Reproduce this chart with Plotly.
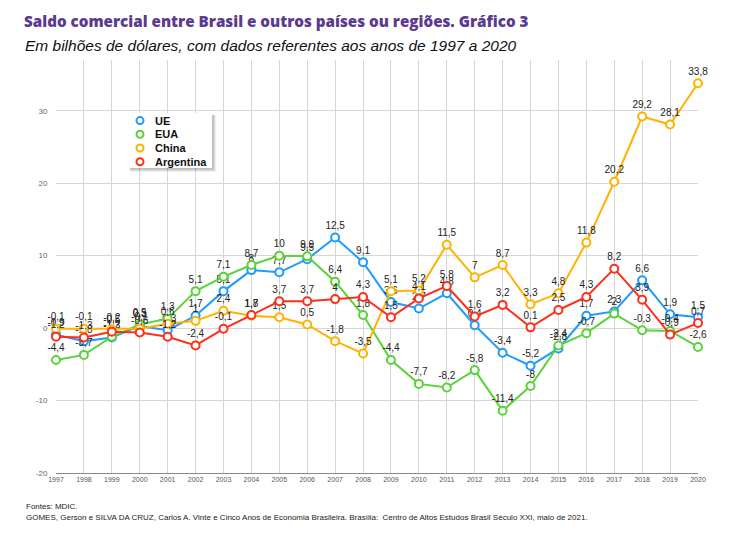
import plotly.graph_objects as go

years = list(range(1997, 2021))
ue = [-0.9, -1.8, -1.3, 0.3, -0.3, 1.7, 5.1, 8, 7.7, 9.5, 12.5, 9.1, 3.6, 2.7, 4.8, 0.4, -3.4, -5.2, -2.8, 1.7, 2.3, 6.6, 1.9, 1.5]
eua = [-4.4, -3.7, -1.2, 0.5, 1.3, 5.1, 7.1, 8.7, 10, 9.9, 6.4, 1.8, -4.4, -7.7, -8.2, -5.8, -11.4, -8, -2.4, -0.7, 2, -0.3, -0.4, -2.6]
china = [-0.1, -0.1, -0.2, -0.1, 0.6, 1, 2.4, 1.7, 1.5, 0.5, -1.8, -3.5, 5.1, 5.2, 11.5, 7, 8.7, 3.3, 4.8, 11.8, 20.2, 29.2, 28.1, 33.8]
argentina = [-1.2, -1.3, -0.5, -0.6, -1.2, -2.4, -0.1, 1.8, 3.7, 3.7, 4, 4.3, 1.5, 4.1, 5.8, 1.6, 3.2, 0.1, 2.5, 4.3, 8.2, 3.9, -0.9, 0.7]

series_names = ["UE", "EUA", "China", "Argentina"]
series_values = [ue, eua, china, argentina]
series_colors = ["#1e9bff", "#5ad238", "#ffb200", "#ff2e1a"]
y_ticks = [-20, -10, 0, 10, 20, 30]

# page offset (browser body margin) compensation
OFF = 8
PL, PR, PT, PB = 56, 698, 60, 472.6  # plot area in screenshot pixels
PW, PH = PR - PL, PB - PT


def px(x):
    return (x - PL) / PW


def py(y):
    return (PB - y) / PH


def fmt(v):
    s = f"{v:.1f}"
    if s.endswith(".0"):
        s = s[:-2]
    return s.replace(".", ",")


fig = go.Figure()
for name, vals, col in zip(series_names, series_values, series_colors):
    fig.add_trace(go.Scatter(
        x=years, y=vals, mode="lines+markers+text", name=name, showlegend=False,
        line=dict(color=col, width=2),
        marker=dict(symbol="circle", size=8, color="white", line=dict(color=col, width=2)),
        text=[fmt(v) for v in vals], textposition="top center",
        textfont=dict(family="Liberation Sans, Arial", size=10, color="#222222"),
        cliponaxis=False,
    ))

# manual legend (compact box with shadow)
shapes = []
LX0, LX1, LY0, LY1 = 129, 212, 113, 168
for d, a in [(4, 0.06), (3, 0.08), (2, 0.12)]:
    shapes.append(dict(type="rect", xref="paper", yref="paper",
                       x0=px(LX0 + 1), x1=px(LX1 + d), y0=py(LY1 + d), y1=py(LY0 + 2),
                       fillcolor=f"rgba(0,0,0,{a})", line=dict(width=0), layer="above"))
shapes.append(dict(type="rect", xref="paper", yref="paper",
                   x0=px(LX0), x1=px(LX1), y0=py(LY1), y1=py(LY0),
                   fillcolor="white", line=dict(width=0), layer="above"))
annotations = []
for i, (name, col) in enumerate(zip(series_names, series_colors)):
    yy = 120.5 + i * 13.7
    shapes.append(dict(type="circle", xref="paper", yref="paper",
                       xsizemode="pixel", ysizemode="pixel",
                       xanchor=px(140), yanchor=py(yy), x0=-3.5, x1=3.5, y0=-3.5, y1=3.5,
                       fillcolor="white", line=dict(color=col, width=2), layer="above"))
    annotations.append(dict(text=f"<b>{name}</b>", xref="paper", yref="paper",
                            x=px(153), y=py(yy), xanchor="left", yanchor="middle",
                            showarrow=False,
                            font=dict(family="Liberation Sans, Arial", size=11, color="#111")))

annotations += [
    dict(text="<i>Em bilhões de dólares, com dados referentes aos anos de 1997 a 2020</i>",
         xref="paper", yref="paper", x=px(23), y=py(46),
         xanchor="left", yanchor="middle", showarrow=False,
         font=dict(family="Liberation Sans, Arial", size=15.5, color="#111")),
    dict(text="Fontes: MDIC.",
         xref="paper", yref="paper", x=px(24), y=py(506),
         xanchor="left", yanchor="middle", showarrow=False,
         font=dict(family="Liberation Sans, Arial", size=8, color="#222")),
    dict(text="GOMES, Gerson e SILVA DA CRUZ, Carlos A. Vinte e Cinco Anos de Economia Brasileira. Brasília:  Centro de Altos Estudos Brasil Século XXI, maio de 2021.",
         xref="paper", yref="paper", x=px(24), y=py(517),
         xanchor="left", yanchor="middle", showarrow=False,
         font=dict(family="Liberation Sans, Arial", size=8, color="#222")),
]

fig.update_layout(
    width=745, height=550,
    margin=dict(l=PL - OFF, r=745 - (PR - OFF), t=PT - OFF, b=550 - (PB - OFF), autoexpand=False),
    paper_bgcolor="white", plot_bgcolor="white",
    font=dict(family="Liberation Sans, Arial", color="#333"),
    showlegend=False,
    title=dict(
        text="Saldo comercial entre Brasil e outros países ou regiões. Gráfico 3",
        x=(24 - OFF) / 745, xanchor="left", xref="container",
        y=1 - (22 - OFF) / 550, yanchor="middle", yref="container",
        font=dict(family="Open Sans, Lato", size=15.2, color="#5b3b8d", weight=800),
    ),
    xaxis=dict(
        range=[1997, 2020], tickmode="array", tickvals=years, ticktext=[str(y) for y in years],
        showgrid=True, gridcolor="#d6d6d6", gridwidth=1, zeroline=False,
        showline=True, linecolor="#8a8a8a", linewidth=1,
        tickfont=dict(family="Liberation Sans Narrow, Liberation Sans", size=7, color="#555"),
        ticks="", fixedrange=True,
    ),
    yaxis=dict(
        range=[-20, 37], tickmode="array", tickvals=y_ticks, ticktext=[str(v) for v in y_ticks],
        showgrid=True, gridcolor="#d6d6d6", gridwidth=1, zeroline=False,
        tickfont=dict(family="Liberation Sans Narrow, Liberation Sans", size=8, color="#666"),
        ticks="outside", ticklen=6, tickcolor="rgba(0,0,0,0)", fixedrange=True,
    ),
    annotations=annotations,
    shapes=shapes,
)

fig.write_html("out.html")
